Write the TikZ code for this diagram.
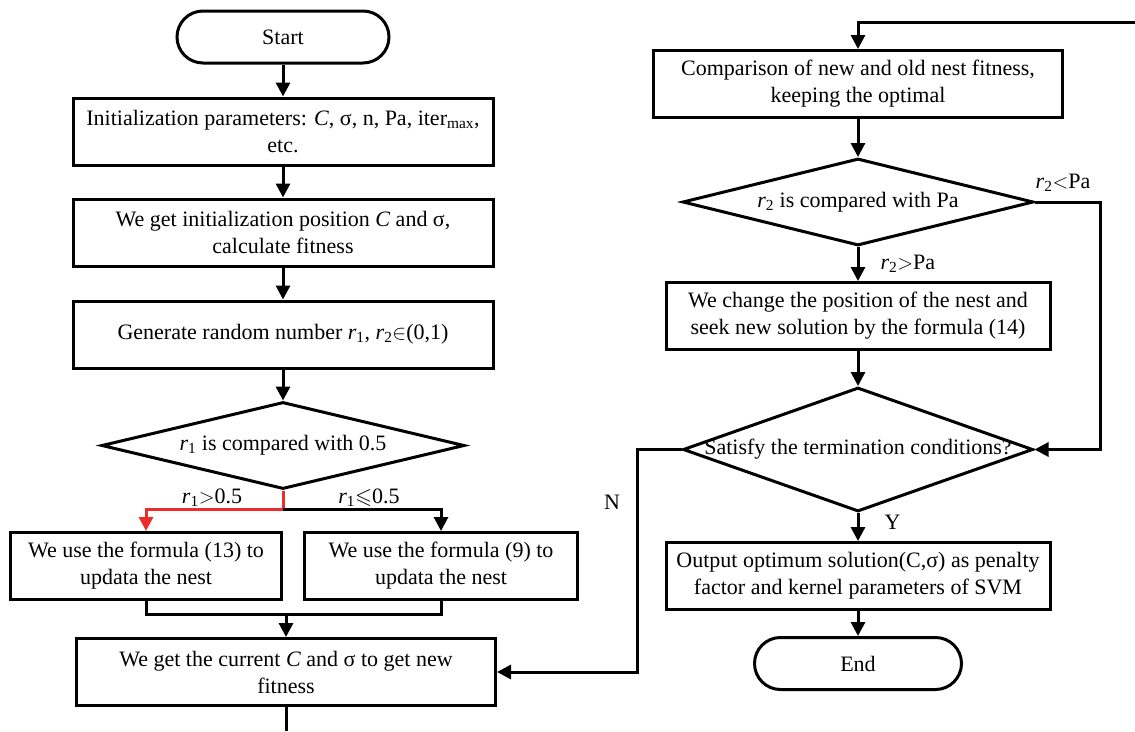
\documentclass[tikz,border=0pt]{standalone}
\usepackage{amssymb}
\usepackage{fontspec}
\setmainfont{Liberation Serif}
\usetikzlibrary{arrows.meta,positioning,shapes.geometric}
\definecolor{FlowRed}{RGB}{235,45,45}
\tikzset{
  stepbox/.style={draw, line width=3pt, align=center, inner sep=2pt,
                  minimum height=67pt},
  terminal/.style={draw, line width=3pt, rounded corners=26pt, minimum height=52pt},
  decision/.style={draw, diamond, line width=3pt, inner sep=0pt},
  flow/.style={-{Triangle[length=14pt,width=14pt]}, line width=3pt},
  flowline/.style={line width=3pt},
  flowlabel/.style={inner sep=1pt},
}

\begin{document}
\begin{tikzpicture}[x=1pt, y=-1pt, font=\fontsize{22}{27}\selectfont]
  \useasboundingbox (0,0) rectangle (1135,731);

  % Linke Spalte
  \node[terminal, minimum width=212pt] (start) at (283,37) {Start};
  \node[stepbox, minimum width=420pt, below=32pt of start] (initParams)
    {Initialization parameters: \textit{C}, σ, n, Pa, iter\textsubscript{max},\\etc.};
  \node[stepbox, minimum width=420pt, below=31pt of initParams] (initPos)
    {We get initialization position \textit{C} and σ,\\calculate fitness};
  \node[stepbox, minimum width=420pt, below=32pt of initPos] (randNum)
    {Generate random number \textit{r}\textsubscript{1}, \textit{r}\textsubscript{2}$\in$(0,1)};
  \node[decision, minimum width=363pt, minimum height=87pt, below=31pt of randNum] (compR1)
    {\makebox[0pt]{\textit{r}\textsubscript{1} is compared with 0.5}};

  \node[stepbox, minimum width=271pt] (formula13) at (146,566)
    {We use the formula (13) to\\updata the nest};
  \node[stepbox, minimum width=273pt] (formula9) at (441,566)
    {We use the formula (9) to\\updata the nest};
  \node[stepbox, minimum width=419pt] (currentFit) at (286,672)
    {We get the current \textit{C} and σ to get new\\fitness};

  % Rechte Spalte
  \node[stepbox, minimum width=409pt] (compareNest) at (858,84)
    {Comparison of new and old nest fitness,\\keeping the optimal};
  \node[decision, minimum width=351pt, minimum height=87pt, below=38pt of compareNest] (compR2)
    {\makebox[0pt]{\textit{r}\textsubscript{2} is compared with Pa}};
  \node[stepbox, minimum width=384pt, below=34pt of compR2] (changeNest)
    {We change the position of the nest and\\seek new solution by the formula (14)};
  \node[decision, minimum width=350pt, minimum height=124pt, below=35pt of changeNest] (termCheck)
    {\makebox[0pt]{Satisfy the termination conditions?}};
  \node[stepbox, minimum width=384pt, below=28pt of termCheck] (output)
    {Output optimum solution(C,σ) as penalty\\factor and kernel parameters of SVM};
  \node[terminal, minimum width=207pt, below=25pt of output] (finish) {End};

  % Beschriftungen
  \node[flowlabel] (lblGt) at (212,498) {\textit{r}\textsubscript{1}$>$0.5};
  \node[flowlabel] (lblLeq) at (369,498) {\textit{r}\textsubscript{1}$\leqslant$0.5};
  \node[flowlabel] (lblLt) at (1063,183) {\textit{r}\textsubscript{2}$<$Pa};
  \node[flowlabel] (lblN) at (612,502) {N};

  % Pfeile
  \draw[flow] (start) -- (initParams);
  \draw[flow] (initParams) -- (initPos);
  \draw[flow] (initPos) -- (randNum);
  \draw[flow] (randNum) -- (compR1);
  \coordinate[below=19pt of compR1.south] (split);
  \draw[flowline, FlowRed] (compR1.south) -- (split);
  \draw[flow, FlowRed] (split) -| (formula13.north);
  \draw[flow] (split) -| (formula9.north);
  \coordinate[below=13pt of formula13.south] (joinL);
  \draw[flowline] (formula13.south) -- (joinL) -| (formula9.south);
  \draw[flow] (joinL -| currentFit.north) -- (currentFit.north);
  \coordinate (loopOut) at (286,731);
  \coordinate (loopIn) at (1135,22);
  \draw[flowline] (currentFit.south) -- (loopOut);
  \draw[flow] (loopIn) -| (compareNest.north);
  \draw[flow] (compareNest) -- (compR2);
  \draw[flow] (compR2) -- node[right=20pt, flowlabel] {\textit{r}\textsubscript{2}$>$Pa} (changeNest);
  \draw[flow] (compR2.east) -- ++(65,0) |- (termCheck.east);
  \draw[flow] (changeNest) -- (termCheck);
  \draw[flow] (termCheck) -- node[right=24pt, flowlabel, yshift=5pt] {Y} (output);
  \draw[flow] (termCheck.west) -- ++(-44,0) |- (currentFit.east);
  \draw[flow] (output) -- (finish);
\end{tikzpicture}
\end{document}
